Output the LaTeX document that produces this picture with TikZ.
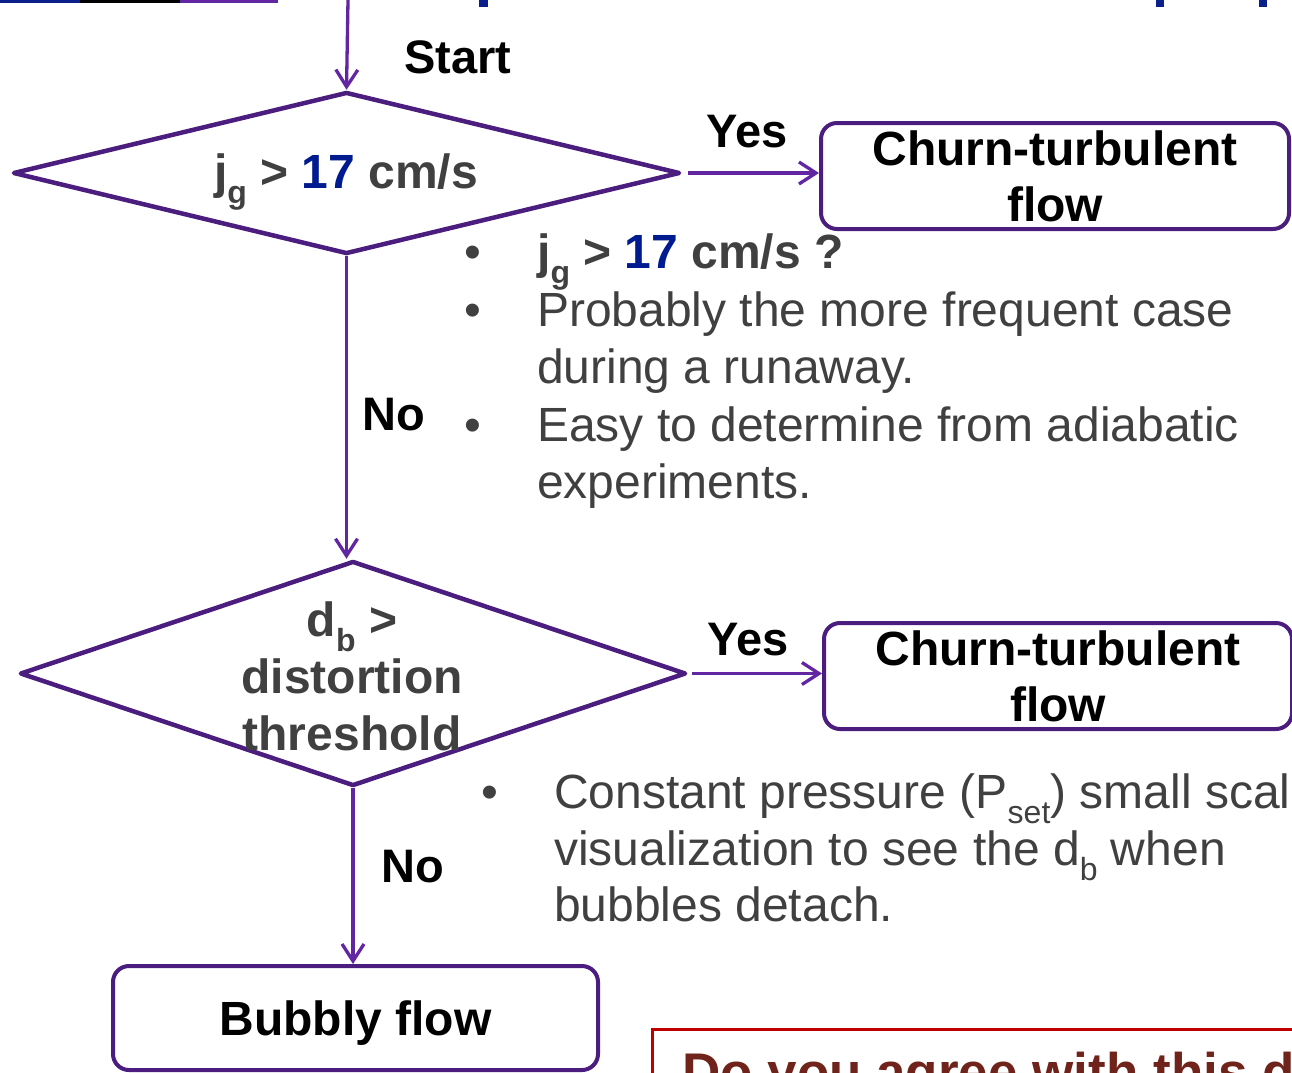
\documentclass[tikz,border=0pt]{standalone}
\usepackage{fontspec}
\setmainfont{Liberation Sans}
\usetikzlibrary{arrows.meta,shapes.geometric}
\definecolor{shapepurple}{HTML}{4B1D7E}
\definecolor{arrowpurple}{HTML}{6326A3}
\definecolor{txtgray}{HTML}{404040}
\definecolor{numblue}{HTML}{001A8F}
\definecolor{boxred}{HTML}{C00000}
\definecolor{darkred}{HTML}{70231A}
\definecolor{titleblue}{HTML}{0A1E8C}
\newcommand\lowsub[1]{\raisebox{-0.32em}{\fontsize{32}{32}\selectfont #1}}
\begin{document}
\begin{tikzpicture}[x=1pt,y=-1pt,
  decision/.style={draw=shapepurple, line width=4.5pt, diamond, inner sep=0pt, line join=round},
  flowbox/.style={draw=shapepurple, line width=4pt, rounded corners=16pt, fill=white, inner sep=0pt, align=center, font=\fontsize{48}{56}\selectfont\bfseries},
  conn/.style={draw=arrowpurple, line width=3.3pt, -{Straight Barb[length=17pt,width=22pt,line width=3.3pt]}},
  lbl/.style={font=\fontsize{47}{56}\selectfont\bfseries, inner sep=0pt},
  dtext/.style={font=\fontsize{48}{56}\selectfont\bfseries, text=txtgray, inner sep=0pt},
  btext/.style={font=\fontsize{48}{56}\selectfont, text=txtgray, inner sep=0pt, anchor=base west},
  bdot/.style={font=\fontsize{48}{56}\selectfont, text=txtgray, inner sep=0pt, anchor=base}
]
\useasboundingbox (0,0) rectangle (1292,1072);
\clip (0,0) rectangle (1292,1072);
% top fragments
\fill[titleblue] (0,0) rectangle (80,2.5);
\fill[black] (80,0) rectangle (180,2.5);
\fill[arrowpurple] (180,0) rectangle (278,2.5);
\fill[titleblue] (479,0) rectangle (488,7);
\fill[titleblue] (1156,0) rectangle (1164,7);
\fill[titleblue] (1259,0) rectangle (1267,7);

% decisions
\node[decision, minimum width=667pt, minimum height=162pt] (d1) at (346.5,173) {};
\node[dtext] (d1t) at (346,182) {j\lowsub{g} > \textcolor{numblue}{17} cm/s};
\node[decision, minimum width=666pt, minimum height=225pt] (d2) at (353,673.5) {};

% boxes
\node[flowbox, minimum width=468pt, minimum height=106pt] (b1) at (1055,176) {Churn-turbulent\\flow};
\node[flowbox, minimum width=468pt, minimum height=106pt] (b2) at (1058,676) {Churn-turbulent\\flow};
\node[flowbox, minimum width=485pt, minimum height=104pt, text depth=0pt] (b3) at (355.5,1018) {Bubbly flow};

% connectors
\coordinate (startpt) at (348,0);
\draw[conn] (startpt) -- (d1.north);
\draw[conn, shorten <=6pt] (d1.east) -- (b1.west |- d1.east);
\draw[conn] (d1.south) -- (d1.south |- d2.north);
\draw[conn, shorten <=4pt] (d2.east) -- (b2.west |- d2.east);
\draw[conn] (d2.south) -- (d2.south |- b3.north);

% diamond 2 text (over the outline)
\node[dtext] (d2a) at (352,627) {d\lowsub{b} >};
\node[dtext] (d2b) at (352,676) {distortion};
\node[dtext] (d2c) at (352,733) {threshold};

% labels
\node[lbl] (lstart) at (458,57) {Start};
\node[lbl] (lyes1) at (747,132) {Yes};
\node[lbl] (lyes2) at (748,640) {Yes};
\node[lbl] (lno1) at (394,415) {No};
\node[lbl] (lno2) at (413,867) {No};

% bullets block 1
\node[bdot] (u1) at (473,268) {•};
\node[btext, font=\fontsize{48}{56}\selectfont\bfseries] (t1) at (537,268) {j\lowsub{g} > \textcolor{numblue}{17} cm/s ?};
\node[bdot] (u2) at (473,326) {•};
\node[btext] (t2) at (537,326) {Probably the more frequent case};
\node[btext] (t3) at (537,383) {during a runaway.};
\node[bdot] (u3) at (473,441) {•};
\node[btext] (t4) at (537,441) {Easy to determine from adiabatic};
\node[btext] (t5) at (537,498) {experiments.};

% bullets block 2
\node[bdot] (u4) at (490,808) {•};
\node[btext] (s1) at (554,808) {Constant pressure (P\lowsub{set}) small scale};
\node[btext] (s2) at (554,865) {visualization to see the d\lowsub{b} when};
\node[btext] (s3) at (554,921) {bubbles detach.};

% red question box
\node[draw=boxred, line width=2.5pt, fill=white, minimum width=700pt, minimum height=80pt, anchor=north west, inner sep=0pt] (qbox) at (651,1028) {};
\node[font=\fontsize{53}{60}\selectfont\bfseries, text=darkred, anchor=base west, inner sep=0pt] (qtext) at (682,1090) {Do you agree with this d};
\end{tikzpicture}
\end{document}
